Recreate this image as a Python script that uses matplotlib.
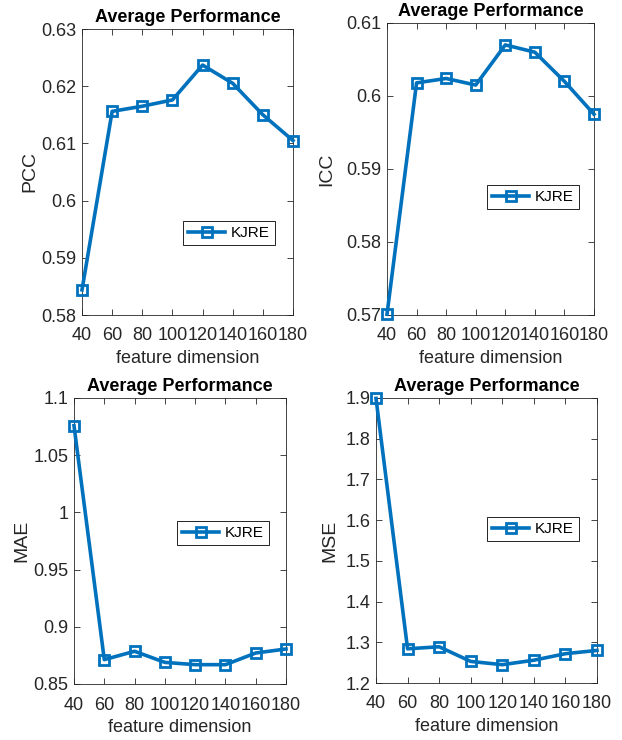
import matplotlib.pyplot as plt

plt.rcParams['font.family'] = ['Liberation Sans', 'DejaVu Sans']

# données
dims = [40, 60, 80, 100, 120, 140, 160, 180]
pcc = [0.5844, 0.6156, 0.6165, 0.6176, 0.6237, 0.6205, 0.6150, 0.6105]
icc = [0.5701, 0.6018, 0.6024, 0.6015, 0.6070, 0.6060, 0.6020, 0.5975]
mae = [1.0758, 0.8713, 0.8786, 0.8689, 0.8669, 0.8669, 0.8771, 0.8806]
mse = [1.899, 1.284, 1.289, 1.253, 1.245, 1.256, 1.272, 1.280]

pcc_ticks = [0.58, 0.59, 0.60, 0.61, 0.62, 0.63]
icc_ticks = [0.57, 0.58, 0.59, 0.60, 0.61]
mae_ticks = [0.85, 0.90, 0.95, 1.00, 1.05, 1.10]
mse_ticks = [1.2, 1.3, 1.4, 1.5, 1.6, 1.7, 1.8, 1.9]

blue = '#0072BD'
dark = '#262626'

fig = plt.figure(figsize=(6.22, 7.40), dpi=100)
W, H = 622, 740

# (gauche, droite, haut, bas) en pixels, position de la légende
panels = [
    ((82, 293, 29, 315), pcc, pcc_ticks, 'PCC', ['0.58', '0.59', '0.6', '0.61', '0.62', '0.63'], (0.953, 0.357), 2),
    ((387, 594, 23, 315), icc, icc_ticks, 'ICC', ['0.57', '0.58', '0.59', '0.6', '0.61'], (0.966, 0.473), 8),
    ((74, 286, 398, 684), mae, mae_ticks, 'MAE', ['0.85', '0.9', '0.95', '1', '1.05', '1.1'], (0.958, 0.598), 2),
    ((376, 597, 398, 683), mse, mse_ticks, 'MSE', ['1.2', '1.3', '1.4', '1.5', '1.6', '1.7', '1.8', '1.9'], (0.955, 0.61), 5),
]

for (l, r, t, b), vals, yt, name, ylabels, leg_pos, ypad in panels:
    ax = fig.add_axes([l / W, 1 - b / H, (r - l) / W, (b - t) / H])
    ax.plot(dims, vals, color=blue, lw=2.6, marker='s', markersize=7,
            markerfacecolor='none', markeredgewidth=2, label='KJRE', clip_on=False, zorder=3)
    ax.set_xlim(40, 180)
    ax.set_ylim(yt[0], yt[-1])
    ax.set_xticks(dims)
    ax.set_yticks(yt)
    ax.set_yticklabels(ylabels)
    ax.tick_params(direction='in', top=True, right=True, labelsize=13,
                   colors=dark, length=4, width=0.6, pad=4)
    ax.tick_params(axis='x', pad=9)
    for s in ax.spines.values():
        s.set_color(dark)
        s.set_linewidth(0.6)
    ax.set_xlabel('feature dimension', fontsize=13, color=dark, labelpad=4)
    ax.set_ylabel(name, fontsize=14, color=dark, labelpad=ypad)
    ax.set_title('Average Performance', fontsize=13, fontweight='bold', pad=5)
    leg = ax.legend(loc='upper right', bbox_to_anchor=leg_pos, fontsize=11,
                    fancybox=False, framealpha=1, edgecolor='black',
                    handlelength=2.4, borderpad=0.35, handletextpad=0.4)
    leg.get_frame().set_linewidth(0.6)

fig.savefig('out.png', dpi=100)
